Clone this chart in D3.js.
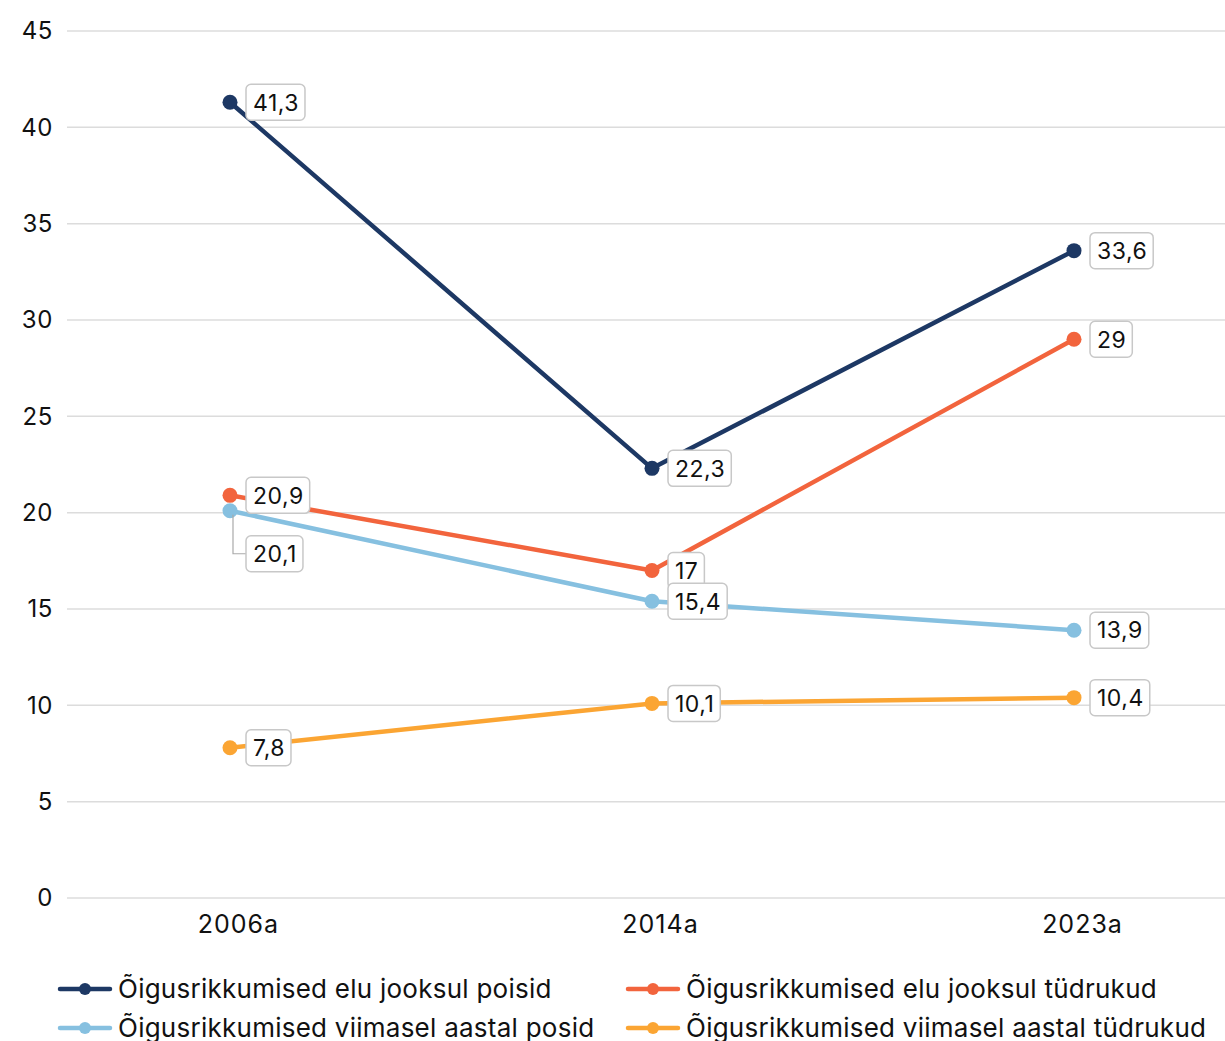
<!DOCTYPE html>
<html><head><meta charset="utf-8">
<script src="https://cdn.jsdelivr.net/npm/d3@7"></script>
<style>body{margin:0;background:#fff;} svg{display:block;font-family:Inter, "Noto Sans", sans-serif;}</style>
</head><body>
<svg id="c" width="1225" height="1041"></svg>
<script>
const categories = ["2006a", "2014a", "2023a"];
const seriesNames = [
  "Õigusrikkumised elu jooksul poisid",
  "Õigusrikkumised elu jooksul tüdrukud",
  "Õigusrikkumised viimasel aastal posid",
  "Õigusrikkumised viimasel aastal tüdrukud"
];
const lifetimeBoys = [41.3, 22.3, 33.6];
const lifetimeGirls = [20.9, 17, 29];
const lastYearBoys = [20.1, 15.4, 13.9];
const lastYearGirls = [7.8, 10.1, 10.4];
const yTicks = [0, 5, 10, 15, 20, 25, 30, 35, 40, 45];
const colors = ["#1d3864", "#f2643d", "#86c0e0", "#fba533"];

const seriesValues = [lifetimeBoys, lifetimeGirls, lastYearBoys, lastYearGirls];
const svg = d3.select("#c");
const plot = {left: 67, right: 1225, top: 31, bottom: 898};

const y = d3.scaleLinear().domain([0, 45]).range([plot.bottom, plot.top]);
const x = d3.scalePoint().domain(categories).range([230, 1074]);

// gridlines
svg.append("g").selectAll("line").data(yTicks).join("line")
  .attr("x1", plot.left).attr("x2", plot.right)
  .attr("y1", d => y(d)).attr("y2", d => y(d))
  .attr("stroke", "#dcdcdc").attr("stroke-width", 1.5);

// y axis labels
const yAxis = d3.axisLeft(y).tickValues(yTicks).tickSize(0).tickPadding(0).tickFormat(d3.format("d"));
const yg = svg.append("g").attr("transform", `translate(53,0)`).call(yAxis);
yg.select(".domain").remove();
yg.selectAll("text").attr("font-size", 24).attr("letter-spacing", 0.6).attr("fill", "#111").attr("font-family", "Inter, sans-serif");

// x axis labels
const xAxis = d3.axisBottom(x).tickSize(0).tickPadding(0);
const xg = svg.append("g").attr("transform", `translate(8,${plot.bottom + 17})`).call(xAxis);
xg.select(".domain").remove();
xg.selectAll("text").attr("font-size", 25).attr("letter-spacing", 1).attr("fill", "#111").attr("font-family", "Inter, sans-serif");

const line = d3.line().x((d, i) => x(categories[i])).y(d => y(d));

seriesValues.forEach((vals, si) => {
  svg.append("path").datum(vals).attr("d", line)
    .attr("fill", "none").attr("stroke", colors[si]).attr("stroke-width", 4.5)
    .attr("stroke-linejoin", "round");
});
seriesValues.forEach((vals, si) => {
  svg.append("g").selectAll("circle").data(vals).join("circle")
    .attr("cx", (d, i) => x(categories[i])).attr("cy", d => y(d)).attr("r", 7.5)
    .attr("fill", colors[si]);
});

// data labels
const fmt = v => String(v).replace(".", ",");
const labelShift = {"2-0": 43};
const labels = svg.append("g");
seriesValues.forEach((vals, si) => {
  vals.forEach((v, i) => {
    const px = x(categories[i]), py = y(v);
    const shift = labelShift[si + "-" + i] || 0;
    const bx = px + 16, cy = py + shift;
    const g = labels.append("g");
    if (shift) {
      g.append("polyline")
        .attr("points", `${px + 3},${py + 4} ${px + 3},${cy} ${bx},${cy}`)
        .attr("fill", "none").attr("stroke", "#aaa").attr("stroke-width", 1.2);
    }
    const rect = g.append("rect");
    const t = g.append("text").text(fmt(v))
      .attr("x", bx + 7).attr("y", cy).attr("dy", "0.36em")
      .attr("font-size", 23).attr("letter-spacing", 0.5).attr("fill", "#111");
    const w = t.node().getComputedTextLength();
    rect.attr("x", bx).attr("y", cy - 18).attr("width", w + 13).attr("height", 36)
      .attr("rx", 5).attr("fill", "#fff").attr("stroke", "#c8c8c8").attr("stroke-width", 1.5);
  });
});

// legend
const legendPos = [[60, 989], [628, 989], [60, 1028], [628, 1028]];
seriesNames.forEach((name, si) => {
  const [lx, ly] = legendPos[si];
  const g = svg.append("g");
  g.append("line").attr("x1", lx).attr("x2", lx + 50).attr("y1", ly).attr("y2", ly)
    .attr("stroke", colors[si]).attr("stroke-width", 4.5).attr("stroke-linecap", "round");
  g.append("circle").attr("cx", lx + 25).attr("cy", ly).attr("r", 6).attr("fill", colors[si]);
  g.append("text").attr("x", lx + 58).attr("y", ly).attr("dy", "0.36em")
    .attr("font-size", 26).attr("letter-spacing", 0.25).attr("fill", "#111").text(name);
});
</script>
</body></html>
